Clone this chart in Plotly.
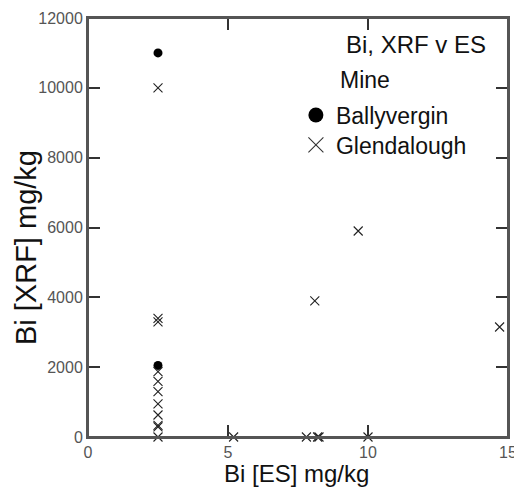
import plotly.graph_objects as go

# Data
bally_es = [2.5, 2.5]
bally_xrf = [11000, 2050]

glen_es = [2.5, 2.5, 2.5, 2.5, 2.5, 2.5, 2.5, 2.5, 2.5, 2.5, 2.5,
           5.2, 7.8, 8.2, 8.25, 10.0, 8.1, 9.65, 14.7]
glen_xrf = [10000, 3400, 3300, 1870, 1590, 1300, 950, 630, 330, 290, 0,
            0, 0, 0, 0, 0, 3900, 5900, 3150]

x_ticks = [0, 5, 10, 15]
y_ticks = [0, 2000, 4000, 6000, 8000, 10000, 12000]
y_tick_text = ["0", "2000", "4000", "6000", "8000", "10000", "12000"]

FONT = "Liberation Sans, Arial"

fig = go.Figure()
fig.add_trace(go.Scatter(x=bally_es, y=bally_xrf, mode="markers", showlegend=False,
                         cliponaxis=False,
                         marker=dict(symbol="circle", size=9, color="black")))
fig.add_trace(go.Scatter(x=glen_es, y=glen_xrf, mode="markers", showlegend=False,
                         cliponaxis=False,
                         marker=dict(symbol="x-thin-open", size=9, color="#222",
                                     line=dict(color="#222", width=1.1))))
# legend entries (one legend each, for exact placement)
fig.add_trace(go.Scatter(x=[None], y=[None], mode="markers", name="Ballyvergin",
                         legend="legend",
                         marker=dict(symbol="circle", size=15, color="black")))
fig.add_trace(go.Scatter(x=[None], y=[None], mode="markers", name="Glendalough",
                         legend="legend2",
                         marker=dict(symbol="x-thin-open", size=15, color="#333",
                                     line=dict(color="#333", width=1.1))))

axis_common = dict(
    showline=True, linecolor="#555", linewidth=2, mirror="ticks",
    ticks="inside", ticklen=12, tickwidth=1.5, tickcolor="#333",
    showgrid=False, zeroline=False, automargin=False,
    ticklabeloverflow="allow",
    tickfont=dict(family=FONT, size=16, color="#555"),
)

fig.update_xaxes(range=[0, 15], tickvals=x_ticks, **axis_common)
fig.update_yaxes(range=[0, 12000], tickvals=y_ticks, ticktext=y_tick_text,
                 ticklabelstandoff=0, **axis_common)

# frame around the plot area
fig.add_shape(type="rect", xref="paper", yref="paper", x0=0, y0=0, x1=1, y1=1,
              line=dict(color="#555", width=2), layer="above")

# axis titles
fig.add_annotation(text="Bi [ES] mg/kg", xref="paper", yref="paper", x=0.4976, y=-0.0883,
                   xanchor="center", yanchor="middle", showarrow=False,
                   font=dict(family=FONT, size=24, color="#111"))
fig.add_annotation(text="Bi [XRF] mg/kg", xref="paper", yref="paper", x=-0.1476, y=0.451,
                   xanchor="center", yanchor="middle", showarrow=False, textangle=-90,
                   font=dict(family=FONT, size=29, color="#111"))

fig.add_annotation(text="Bi, XRF v ES", xref="paper", yref="paper", x=0.61, y=0.936,
                   xanchor="left", yanchor="middle", showarrow=False,
                   font=dict(family=FONT, size=24, color="#111"))
fig.add_annotation(text="Mine", xref="paper", yref="paper", x=0.595, y=0.852,
                   xanchor="left", yanchor="middle", showarrow=False,
                   font=dict(family=FONT, size=23, color="#111"))

legend_style = dict(xanchor="left", yanchor="middle", bgcolor="rgba(0,0,0,0)",
                    font=dict(family=FONT, size=23, color="#111"), itemwidth=30)

fig.update_layout(
    width=514, height=493,
    margin=dict(l=88, r=6, t=18, b=56),
    plot_bgcolor="white", paper_bgcolor="white",
    legend=dict(x=0.495, y=0.7685, **legend_style),
    legend2=dict(x=0.495, y=0.6969, **legend_style),
)

# remove the default page margin so the figure fills the window exactly
fig.write_html("out.html", config={"displayModeBar": False},
               post_script="document.body.style.margin='0';document.body.style.overflow='hidden';")
